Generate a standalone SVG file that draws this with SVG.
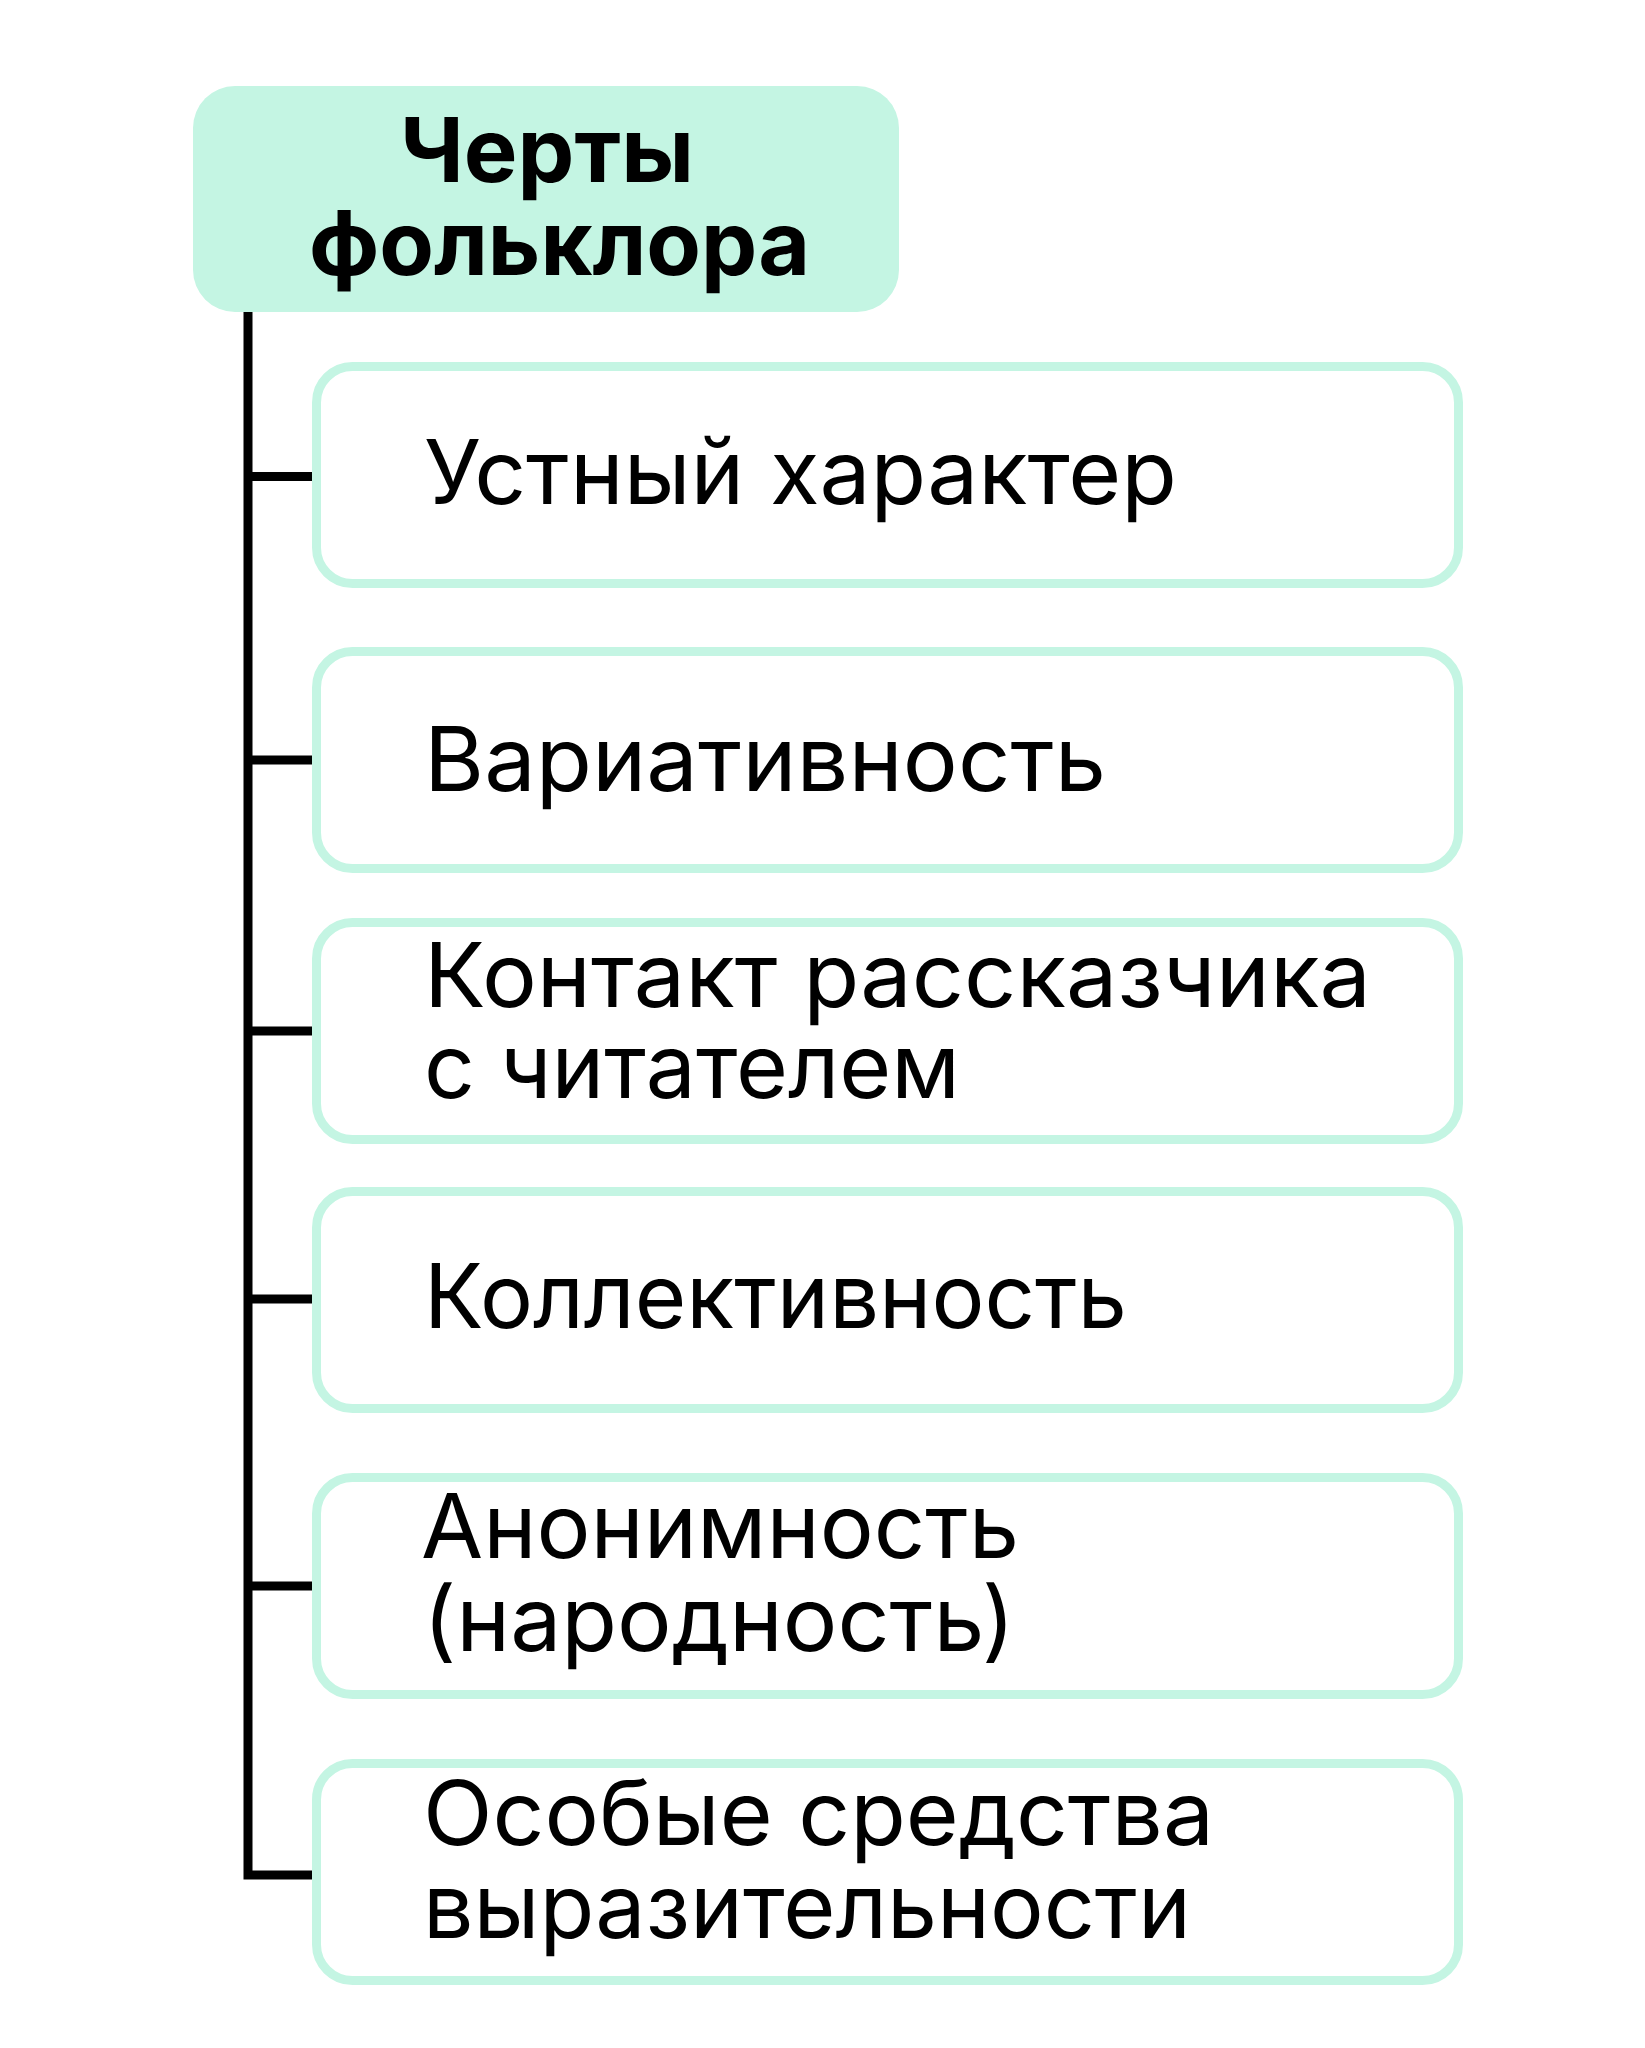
<svg xmlns="http://www.w3.org/2000/svg" width="1645" height="2048" viewBox="0 0 1645 2048">
<style>
.hdr{fill:#C4F5E3}
.box{fill:#FFFFFF;stroke:#C4F5E3;stroke-width:9}
.conn{fill:none;stroke:#000000;stroke-width:9;stroke-linejoin:miter;stroke-linecap:butt}
.t{font-family:Inter,"Noto Sans","Liberation Sans",sans-serif;font-size:89px;fill:#000000}
.tb{font-family:Inter,"Noto Sans","Liberation Sans",sans-serif;font-size:89px;font-weight:700;fill:#000000}
</style>
<rect x="0" y="0" width="1645" height="2048" fill="#FFFFFF"/>
<g id="connectors">
<path class="conn" d="M248,312 V1875 H313"/>
<path class="conn" d="M248,476.5 H313"/>
<path class="conn" d="M248,760 H313"/>
<path class="conn" d="M248,1031 H313"/>
<path class="conn" d="M248,1299 H313"/>
<path class="conn" d="M248,1586 H313"/>
</g>
<g id="root">
<rect class="hdr" x="193" y="86" width="706" height="226" rx="42"/>
<text class="tb" x="400" y="182" textLength="294" lengthAdjust="spacingAndGlyphs">Черты</text>
<text class="tb" x="309" y="275" textLength="501" lengthAdjust="spacingAndGlyphs">фольклора</text>
</g>
<g id="n1">
<rect class="box" x="316.5" y="366.5" width="1142" height="217" rx="36"/>
<text class="t" x="424" y="504" textLength="753" lengthAdjust="spacingAndGlyphs">Устный характер</text>
</g>
<g id="n2">
<rect class="box" x="316.5" y="651.5" width="1142" height="217" rx="36"/>
<text class="t" x="424" y="791" textLength="682" lengthAdjust="spacingAndGlyphs">Вариативность</text>
</g>
<g id="n3">
<rect class="box" x="316.5" y="922.5" width="1142" height="217" rx="36"/>
<text class="t" x="424" y="1007" textLength="947" lengthAdjust="spacingAndGlyphs">Контакт рассказчика</text>
<text class="t" x="424" y="1098" textLength="536" lengthAdjust="spacingAndGlyphs">с читателем</text>
</g>
<g id="n4">
<rect class="box" x="316.5" y="1191.5" width="1142" height="217" rx="36"/>
<text class="t" x="424" y="1328" textLength="703" lengthAdjust="spacingAndGlyphs">Коллективность</text>
</g>
<g id="n5">
<rect class="box" x="316.5" y="1477.5" width="1142" height="217" rx="36"/>
<text class="t" x="421" y="1558" textLength="598" lengthAdjust="spacingAndGlyphs">Анонимность</text>
<text class="t" x="423" y="1651" textLength="592" lengthAdjust="spacingAndGlyphs">(народность)</text>
</g>
<g id="n6">
<rect class="box" x="316.5" y="1763.5" width="1142" height="217" rx="36"/>
<text class="t" x="423" y="1845" textLength="791" lengthAdjust="spacingAndGlyphs">Особые средства</text>
<text class="t" x="423" y="1938" textLength="768" lengthAdjust="spacingAndGlyphs">выразительности</text>
</g>
</svg>
